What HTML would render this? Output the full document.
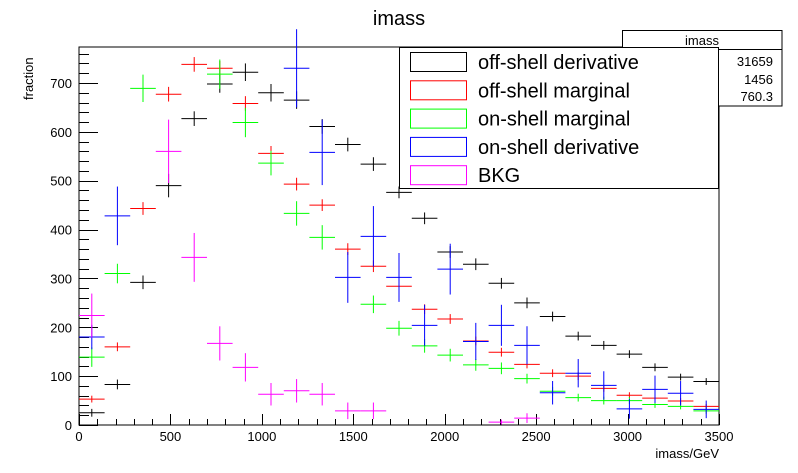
<!DOCTYPE html>
<html><head><meta charset="utf-8">
<style>
body{margin:0;background:#fff;}
svg{display:block;font-family:"Liberation Sans",sans-serif;}
</style></head>
<body>
<svg id="chart" width="798" height="473" viewBox="0 0 798 473" xmlns="http://www.w3.org/2000/svg">
<rect x="0" y="0" width="798" height="473" fill="#fff"/>
<text x="399" y="25" font-size="20" text-anchor="middle">imass</text>
<rect x="79" y="47" width="640" height="378" fill="none" stroke="#000" stroke-width="1"/>
<g id="axes"></g>
<g id="marks"></g>
<text x="33" y="100" font-size="13" transform="rotate(-90 33 100)" text-anchor="start">fraction</text>
<text x="719" y="458" font-size="13" text-anchor="end">imass/GeV</text>
<g>
<rect x="622.5" y="30.5" width="159.5" height="75.5" fill="#fff" stroke="#000"/>
<line x1="622.5" y1="49.5" x2="782" y2="49.5" stroke="#000"/>
<text x="702" y="45" font-size="13" text-anchor="middle">imass</text>
<text x="773" y="66" font-size="13" text-anchor="end">31659</text>
<text x="773" y="84" font-size="13" text-anchor="end">1456</text>
<text x="773" y="101" font-size="13" text-anchor="end">760.3</text>
</g>
<g id="legend">
<rect x="399.5" y="47.5" width="319" height="141" fill="#fff" stroke="#000"/>
</g>
</svg>
<script>
const categories = [70,210,350,490,630,770,910,1050,1190,1330,1470,1610,1750,1890,2030,2170,2310,2450,2590,2730,2870,3010,3150,3290,3430];
const seriesNames = ["off-shell derivative","off-shell marginal","on-shell marginal","on-shell derivative","BKG"];
const seriesColors = ["#000000","#ff0000","#00ff00","#0000ff","#ff00ff"];
const offDerivVals = [25,83,292,490,627,698,722,680,665,611,574,534,476,423,354,329,290,250,222,182,163,145,118,98,89];
const offDerivErr  = [8,10,14,24,15,18,18,18,18,15,14,14,12,12,12,12,11,11,10,9,9,8,8,7,7];
const offMargVals  = [53,160,443,677,738,730,658,556,493,450,360,325,284,237,217,172,149,124,106,100,75,61,55,49,38];
const offMargErr   = [7,9,13,15,15,15,15,15,13,12,12,12,11,10,10,9,9,8,8,8,7,6,6,6,5];
const onMargVals   = [139,310,689,null,null,718,619,536,433,384,null,247,198,162,143,123,116,95,69,56,50,50,42,38,29];
const onMargErr    = [20,20,28,0,0,30,30,25,25,25,0,18,15,14,13,12,12,10,9,8,8,7,7,6,6];
const onDerivVals  = [180,428,null,null,null,null,null,null,730,558,302,386,302,204,319,171,204,163,66,106,81,33,73,65,32];
const onDerivErr   = [25,60,0,0,0,0,0,0,80,67,52,62,50,42,52,38,42,39,24,29,29,20,28,25,18];
const bkgVals      = [224,null,null,560,343,167,118,63,70,63,29,29,null,null,null,null,6,14,null,null,null,null,null,null,null];
const bkgErr       = [45,0,0,65,50,35,29,23,24,23,17,17,0,0,0,0,5,10,0,0,0,0,0,0,0];
const yTicks = [0,100,200,300,400,500,600,700];
const xTicks = [0,500,1000,1500,2000,2500,3000,3500];

const X0=79,X1=719,Y0=425,YT=47,XMAX=3500,YMAX=773.6,BINW=140;
const sx=v=>X0+(v/XMAX)*(X1-X0);
const sy=v=>Y0-(v/YMAX)*(Y0-YT);
const NS="http://www.w3.org/2000/svg";
function mk(tag,attrs,parent){const e=document.createElementNS(NS,tag);for(const k in attrs)e.setAttribute(k,attrs[k]);parent.appendChild(e);return e;}
const axes=document.getElementById('axes');
for(let v=0;v<=YMAX;v+=20){
  const y=Math.round(sy(v))+0.5;const major=v%100===0;
  const t=mk('line',{x1:X0,y1:y,x2:X0+(major?19:10),y2:y,stroke:'#000'},axes);
  
  
}
yTicks.forEach(v=>{
  const t=mk('text',{x:72,y:sy(v)+5,'font-size':13,'text-anchor':'end'},axes);t.textContent=v;
  
  
});
for(let v=0;v<=XMAX;v+=100){
  const x=Math.round(sx(v))+0.5;const major=v%500===0;
  const t=mk('line',{x1:x,y1:Y0,x2:x,y2:Y0-(major?11:6),stroke:'#000'},axes);
  
  
}
xTicks.forEach(v=>{
  const t=mk('text',{x:sx(v),y:441,'font-size':13,'text-anchor':'middle'},axes);t.textContent=v;
  
  
});
const marks=document.getElementById('marks');
const allVals=[offDerivVals,offMargVals,onMargVals,onDerivVals,bkgVals];
const allErr=[offDerivErr,offMargErr,onMargErr,onDerivErr,bkgErr];
allVals.forEach((vals,si)=>{
  const g=mk('g',{stroke:seriesColors[si],'stroke-width':1},marks);
  
  
  vals.forEach((v,i)=>{
    if(v===null)return;
    const c=categories[i];const y=sy(v);
    const h=mk('line',{x1:sx(c-BINW/2),y1:y,x2:sx(c+BINW/2),y2:y},g);
    
    
    const e=allErr[si][i];
    if(e>0){
      const vl=mk('line',{x1:sx(c),y1:sy(v+e),x2:sx(c),y2:Math.min(sy(v-e),Y0)},g);
      
      
    }
  });
});
const legend=document.getElementById('legend');
seriesNames.forEach((n,i)=>{
  const y=52+i*28.3;
  const r=mk('rect',{x:410.5,y:y+0.5,width:56,height:19,fill:'none',stroke:seriesColors[i]},legend);
  
  
  const t=mk('text',{x:478,y:y+17,'font-size':20},legend);t.textContent=n;
  
  
});
</script>
</body></html>
